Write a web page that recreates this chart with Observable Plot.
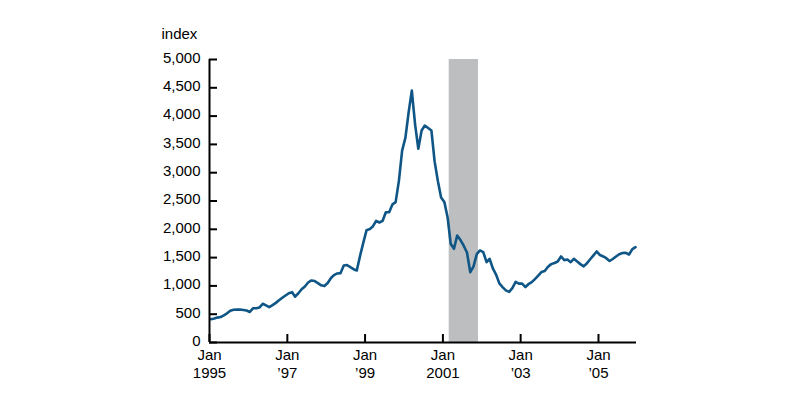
<!DOCTYPE html>
<html><head><meta charset="utf-8">
<script src="https://cdn.jsdelivr.net/npm/d3@7"></script>
<script src="https://cdn.jsdelivr.net/npm/@observablehq/plot@0.6"></script>
<style>
html,body{margin:0;padding:0;background:#fff;}
#chart svg{display:block;}
</style>
</head><body><div id="chart"></div>
<script>
// Monthly index values, Jan 1995 – Dec 2005 (one row per year)
const startYear = 1995;
const values = [
  412, 425, 440, 450, 480, 515, 560, 578, 580, 582, 575, 565,        // 1995
  540, 606, 605, 620, 684, 655, 624, 660, 700, 745, 790, 830,        // 1996
  871, 889, 810, 870, 940, 990, 1060, 1096, 1085, 1050, 1010, 997,   // 1997
  1050, 1140, 1190, 1220, 1225, 1360, 1370, 1331, 1295, 1272, 1530, 1760, // 1998
  1985, 2005, 2050, 2150, 2120, 2150, 2300, 2300, 2440, 2480, 2860, 3390, // 1999
  3620, 4080, 4450, 3850, 3423, 3746, 3834, 3790, 3746, 3200, 2850, 2560, // 2000
  2480, 2200, 1744, 1656, 1891, 1810, 1710, 1590, 1242, 1340, 1560, 1626, // 2001
  1596, 1419, 1479, 1310, 1200, 1045, 980, 920, 895, 960, 1070, 1040,     // 2002
  1040, 980, 1030, 1066, 1120, 1180, 1245, 1262, 1340, 1385, 1405, 1430,  // 2003
  1520, 1455, 1465, 1419, 1479, 1430, 1385, 1345, 1400, 1470, 1540, 1608, // 2004
  1545, 1520, 1490, 1440, 1475, 1520, 1560, 1580, 1585, 1555, 1650, 1684  // 2005
];
const yTicks = [0, 500, 1000, 1500, 2000, 2500, 3000, 3500, 4000, 4500, 5000];
const xTickYears = [1995, 1997, 1999, 2001, 2003, 2005];
const xTickLabels = ["Jan\n1995", "Jan\n’97", "Jan\n’99", "Jan\n2001", "Jan\n’03", "Jan\n’05"];
const recessionStart = ["2001-03-01"];
const recessionEnd = ["2001-12-01"];
const axisLabel = "index";

const data = values.map((v, i) => ({date: new Date(Date.UTC(startYear, i, 15)), value: v}));
const xTickDates = xTickYears.map(y => new Date(Date.UTC(y, 0, 1)));
const labelByYear = Object.fromEntries(xTickYears.map((y, i) => [y, xTickLabels[i]]));
const recession = recessionStart.map((s, i) => ({start: new Date(s), end: new Date(recessionEnd[i])}));
const xStart = new Date(Date.UTC(1995, 0, 1));
const xEnd = new Date(Date.UTC(2005, 11, 24));

const chart = Plot.plot({
  width: 800, height: 397,
  marginLeft: 209, marginRight: 164, marginTop: 59, marginBottom: 55,
  style: {fontFamily: "'Liberation Sans', Arial, Helvetica, sans-serif", fontSize: "15px", color: "#000", background: "#fff"},
  x: {type: "utc", domain: [xStart, xEnd]},
  y: {domain: [0, 5000]},
  marks: [
    Plot.rect(recession, {x1: "start", x2: "end", y1: 0, y2: 5000, fill: "#bcbec0"}),
    Plot.line(data, {x: "date", y: "value", stroke: "#0f5686", strokeWidth: 2.6, strokeLinejoin: "round"}),
    Plot.axisY({ticks: yTicks, tickSize: 0, tickPadding: 9, dy: -1.5, tickFormat: d3.format(","), label: null}),
    Plot.axisY({ticks: yTicks, tickSize: 8, dx: 8, tickFormat: () => "", label: null, strokeWidth: 2}),
    Plot.axisX({ticks: xTickDates, tickSize: 0, tickPadding: 5, tickFormat: d => labelByYear[d.getUTCFullYear()], label: null, lineHeight: 1.2}),
    Plot.axisX({ticks: xTickDates, tickSize: 8, dy: -8, tickFormat: () => "", label: null, strokeWidth: 2}),
    Plot.ruleX([xStart], {x: d => d, y1: 0, y2: 5000, stroke: "#000", strokeWidth: 2}),
    Plot.ruleY([0], {x1: xStart, x2: xEnd, stroke: "#000", strokeWidth: 2}),
    Plot.text([axisLabel], {frameAnchor: "top-left", dx: -48, dy: -31, textAnchor: "start"})
  ]
});
document.getElementById("chart").appendChild(chart);
</script>
</body></html>
